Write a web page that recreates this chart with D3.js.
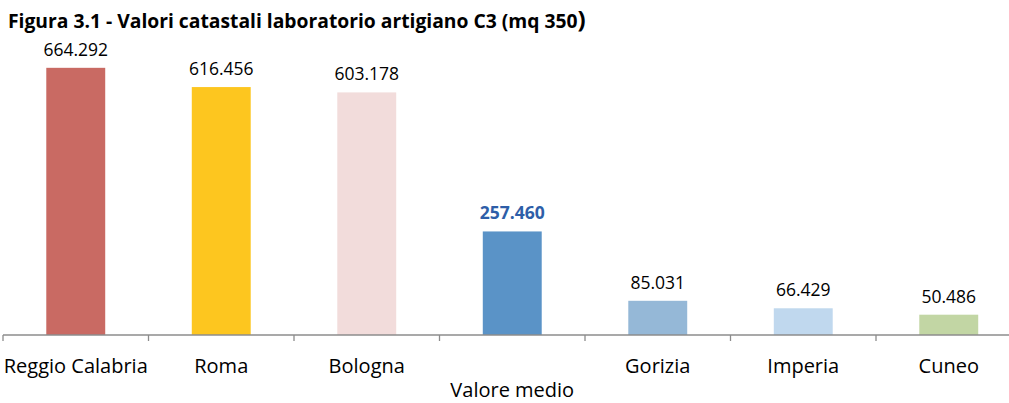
<!DOCTYPE html>
<html>
<head>
<meta charset="utf-8">
<script src="https://cdn.jsdelivr.net/npm/d3@7"></script>
<style>
  body { margin: 0; background: #fff; }
  svg { font-family: "Open Sans", Lato, sans-serif; }
</style>
</head>
<body>
<svg id="chart" width="1009" height="403"></svg>
<script>
var categories = ['Reggio Calabria', 'Roma', 'Bologna', 'Valore medio', 'Gorizia', 'Imperia', 'Cuneo'];
var values = [664292, 616456, 603178, 257460, 85031, 66429, 50486];
var barColors = ['#C96A63', '#FDC61F', '#F2DCDB', '#5A93C7', '#95B8D7', '#C0D8EE', '#C2D6A4'];
var yDomain = [0, 700000];

var svg = d3.select('#chart'),
    left = 3,
    bandWidth = 145.5,
    baseY = 335;

var itFormat = d3.formatLocale({decimal: ',', thousands: '.', grouping: [3], currency: ['', '€']}).format(',d');

var xScale = d3.scaleBand()
    .domain(categories)
    .range([left, left + bandWidth * categories.length])
    .paddingInner(0.595)
    .paddingOuter(0.2975);

var yScale = d3.scaleLinear()
    .domain(yDomain)
    .range([baseY, baseY - 0.4022 * 700]);

// title
var title = svg.append('text')
    .attr('x', 8)
    .attr('y', 28)
    .style('font-size', '19.3px')
    .style('font-weight', 'bold')
    .style('fill', '#000')
    .text('Figura 3.1 - Valori catastali laboratorio artigiano C3 (mq 350');
title.append('tspan').style('font-size', '24px').text(')');

// bars
svg.append('g').selectAll('rect')
    .data(values)
    .enter().append('rect')
    .attr('x', function (d, i) { return xScale(categories[i]); })
    .attr('width', xScale.bandwidth())
    .attr('y', function (d) { return yScale(d); })
    .attr('height', function (d) { return baseY - yScale(d); })
    .style('fill', function (d, i) { return barColors[i]; });

// value labels
svg.append('g').selectAll('text')
    .data(values)
    .enter().append('text')
    .attr('x', function (d, i) { return xScale(categories[i]) + xScale.bandwidth() / 2; })
    .attr('y', function (d) { return yScale(d) - 12; })
    .attr('text-anchor', 'middle')
    .style('font-size', '17.5px')
    .style('font-weight', function (d, i) { return i == 3 ? 'bold' : 'normal'; })
    .style('fill', function (d, i) { return i == 3 ? '#2E5EA8' : '#000'; })
    .text(function (d) { return itFormat(d); });

// x axis
var axis = svg.append('g').attr('transform', 'translate(0,' + baseY + ')');
axis.append('line')
    .attr('x1', left).attr('x2', 1009)
    .attr('y1', 0).attr('y2', 0)
    .style('stroke', '#8C8C8C').style('stroke-width', 1.3);
var ticks = d3.range(categories.length + 1).map(function (i) { return left + i * bandWidth; });
axis.selectAll('.tick')
    .data(ticks)
    .enter().append('line')
    .attr('x1', function (d) { return d; }).attr('x2', function (d) { return d; })
    .attr('y1', 0).attr('y2', 6)
    .style('stroke', '#8C8C8C').style('stroke-width', 1.3);

axis.selectAll('.lab')
    .data(categories)
    .enter().append('text')
    .attr('x', function (d) { return xScale(d) + xScale.bandwidth() / 2; })
    .attr('y', function (d, i) { return i == 3 ? 62 : 38; })
    .attr('text-anchor', 'middle')
    .style('font-size', '20px')
    .style('fill', '#000')
    .text(function (d) { return d; });
</script>
</body>
</html>
